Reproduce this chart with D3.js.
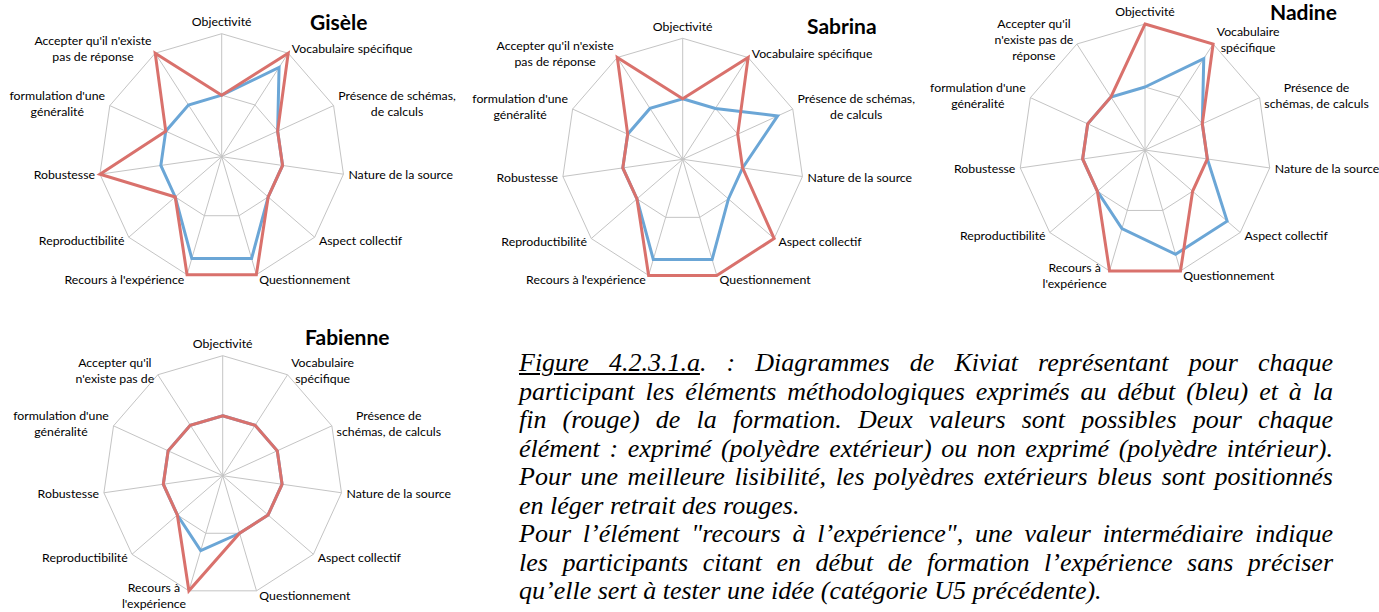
<!DOCTYPE html>
<html>
<head>
<meta charset="utf-8">
<title>Diagrammes de Kiviat</title>
<script src="https://cdn.jsdelivr.net/npm/d3@7"></script>
<style>
body { margin: 0; background: #fff; width: 1379px; height: 612px; overflow: hidden; position: relative; }
#chart { position: absolute; left: 0; top: 0; }
.axis-label { font-family: Lato, sans-serif; font-size: 12.3px; fill: #000; }
.title { font-family: Lato, sans-serif; font-weight: bold; font-size: 21px; fill: #000; }
#caption { position: absolute; left: 519px; top: 349px; width: 814px;
    font-family: "Liberation Serif", serif; font-style: italic; font-size: 26px; line-height: 28.5px; color: #000; }
#caption div { white-space: nowrap; text-align: justify; text-align-last: justify; }
#caption div.last { text-align-last: left; }
</style>
</head>
<body>
<svg id="chart" width="1379" height="612"></svg>
<div id="caption"></div>
<script>
var categories = ["Objectivité", "Vocabulaire spécifique", "Présence de schémas, de calculs",
    "Nature de la source", "Aspect collectif", "Questionnement", "Recours à l'expérience",
    "Reproductibilité", "Robustesse", "formulation d'une généralité",
    "Accepter qu'il n'existe pas de réponse"];

// 2 = non exprimé, 4 = exprimé (rouge), 3.45 = exprimé (bleu, en retrait), 2.6 = valeur intermédiaire
var giseleDebut   = [2, 3.45, 2, 2, 2, 3.45, 3.45, 2, 2, 2, 2];
var giseleFin     = [2, 4, 2, 2, 2, 4, 4, 2, 4, 2, 4];
var sabrinaDebut  = [2, 2, 3.45, 2, 2, 3.45, 3.45, 2, 2, 2, 2];
var sabrinaFin    = [2, 4, 2, 2, 4, 4, 4, 2, 2, 2, 4];
var nadineDebut   = [2, 3.45, 2, 2, 3.45, 3.45, 2.6, 2, 2, 2, 2];
var nadineFin     = [4, 4, 2, 2, 2, 4, 4, 2, 2, 2, 2];
var fabienneDebut = [2, 2, 2, 2, 2, 2, 2.6, 2, 2, 2, 2];
var fabienneFin   = [2, 2, 2, 2, 2, 2, 4, 2, 2, 2, 2];

var gridLevels = [2, 4];

// axis labels as wrapped in each chart
var labelsLong = [["Objectivité"], ["Vocabulaire spécifique"], ["Présence de schémas,", "de calculs"],
    ["Nature de la source"], ["Aspect collectif"], ["Questionnement"], ["Recours à l'expérience"],
    ["Reproductibilité"], ["Robustesse"], ["formulation d'une", "généralité"],
    ["Accepter qu'il n'existe", "pas de réponse"]];
var labelsNadine = [["Objectivité"], ["Vocabulaire", "spécifique"], ["Présence de", "schémas, de calculs"],
    ["Nature de la source"], ["Aspect collectif"], ["Questionnement"], ["Recours à", "l'expérience"],
    ["Reproductibilité"], ["Robustesse"], ["formulation d'une", "généralité"],
    ["Accepter qu'il", "n'existe pas de", "réponse"]];
var labelsFabienne = [["Objectivité"], ["Vocabulaire", "spécifique"], ["Présence de", "schémas, de calculs"],
    ["Nature de la source"], ["Aspect collectif"], ["Questionnement"], ["Recours à", "l'expérience"],
    ["Reproductibilité"], ["Robustesse"], ["formulation d'une", "généralité"],
    ["Accepter qu'il", "n'existe pas de"]];

var captionLines = [
    "<u>Figure 4.2.3.1.a</u>. : Diagrammes de Kiviat représentant pour chaque",
    "participant les éléments méthodologiques exprimés au début (bleu) et à la",
    "fin (rouge) de la formation. Deux valeurs sont possibles pour chaque",
    "élément : exprimé (polyèdre extérieur) ou non exprimé (polyèdre intérieur).",
    "Pour une meilleure lisibilité, les polyèdres extérieurs bleus sont positionnés",
    "en léger retrait des rouges.",
    "Pour l’élément \"recours à l’expérience\", une valeur intermédiaire indique",
    "les participants citant en début de formation l’expérience sans préciser",
    "qu’elle sert à tester une idée (catégorie U5 précédente)."
];

var panels = [
    {name: "Gisèle",   debut: giseleDebut,   fin: giseleFin,   labels: labelsLong,     cx: 221.7, cy: 156.7, r: 123, tx: 310, ty: 30},
    {name: "Sabrina",  debut: sabrinaDebut,  fin: sabrinaFin,  labels: labelsLong,     cx: 682.7, cy: 159.3, r: 121, tx: 807, ty: 33.5},
    {name: "Nadine",   debut: nadineDebut,   fin: nadineFin,   labels: labelsNadine,   cx: 1145,  cy: 150,   r: 126, tx: 1270, ty: 20},
    {name: "Fabienne", debut: fabienneDebut, fin: fabienneFin, labels: labelsFabienne, cx: 222.7, cy: 475.7, r: 120, tx: 305, ty: 345}
];

var blue = "#6ba6d6",
    red = "#d9716c",
    gridColor = "#c4c4c4",
    lineHeight = 16;

var svg = d3.select("#chart");

var angle = d3.scaleLinear()
    .domain([0, categories.length])
    .range([0, 2 * Math.PI]);

panels.forEach(function(p) {
    var rScale = d3.scaleLinear().domain([0, 4]).range([0, p.r]);

    var g = svg.append("g")
        .attr("transform", "translate(" + [p.cx, p.cy] + ")");

    var radial = d3.lineRadial()
        .angle(function(d, i) { return angle(i); })
        .radius(function(d) { return rScale(d); })
        .curve(d3.curveLinearClosed);

    // grid rings
    g.selectAll(".ring")
        .data(gridLevels)
      .enter().append("path")
        .attr("class", "ring")
        .attr("d", function(lv) { return radial(categories.map(function() { return lv; })); })
        .attr("fill", "none")
        .attr("stroke", gridColor)
        .attr("stroke-width", 1);

    // spokes
    g.selectAll(".spoke")
        .data(categories)
      .enter().append("line")
        .attr("class", "spoke")
        .attr("x2", function(d, i) { return rScale(4) * Math.sin(angle(i)); })
        .attr("y2", function(d, i) { return -rScale(4) * Math.cos(angle(i)); })
        .attr("stroke", gridColor)
        .attr("stroke-width", 1);

    // series: début (blue) under fin (red)
    [[p.debut, blue], [p.fin, red]].forEach(function(s) {
        g.append("path")
            .attr("d", radial(s[0]))
            .attr("fill", "none")
            .attr("stroke", s[1])
            .attr("stroke-width", 3)
            .attr("stroke-linejoin", "miter");
    });

    // axis labels
    p.labels.forEach(function(lines, i) {
        var a = angle(i),
            sn = Math.sin(a),
            cs = Math.cos(a),
            vx = rScale(4) * sn,
            vy = -rScale(4) * cs,
            cyBlock;

        var t = g.append("g").attr("class", "label");
        var texts = t.selectAll("text")
            .data(lines)
          .enter().append("text")
            .attr("class", "axis-label")
            .attr("text-anchor", "middle")
            .attr("dy", "0.35em")
            .text(function(d) { return d; });

        var w = d3.max(texts.nodes(), function(n) { return n.getComputedTextLength(); });
        var bx;
        if (Math.abs(sn) < 0.1) {
            bx = vx;
            cyBlock = vy - 12;
        } else if (sn > 0) {
            bx = vx + 2 + 3 * Math.abs(sn) + w / 2;
            cyBlock = vy - cs * 5;
        } else {
            bx = vx - 2 - 3 * Math.abs(sn) - w / 2;
            cyBlock = vy - cs * 5;
        }
        texts
            .attr("x", bx)
            .attr("y", function(d, j) { return cyBlock + (j - (lines.length - 1) / 2) * lineHeight; });
    });

    svg.append("text")
        .attr("class", "title")
        .attr("x", p.tx)
        .attr("y", p.ty)
        .text(p.name);
});

d3.select("#caption").selectAll("div")
    .data(captionLines)
  .enter().append("div")
    .attr("class", function(d, i) { return (i == 5 || i == 8) ? "last" : null; })
    .html(function(d) { return d; });
</script>
</body>
</html>
